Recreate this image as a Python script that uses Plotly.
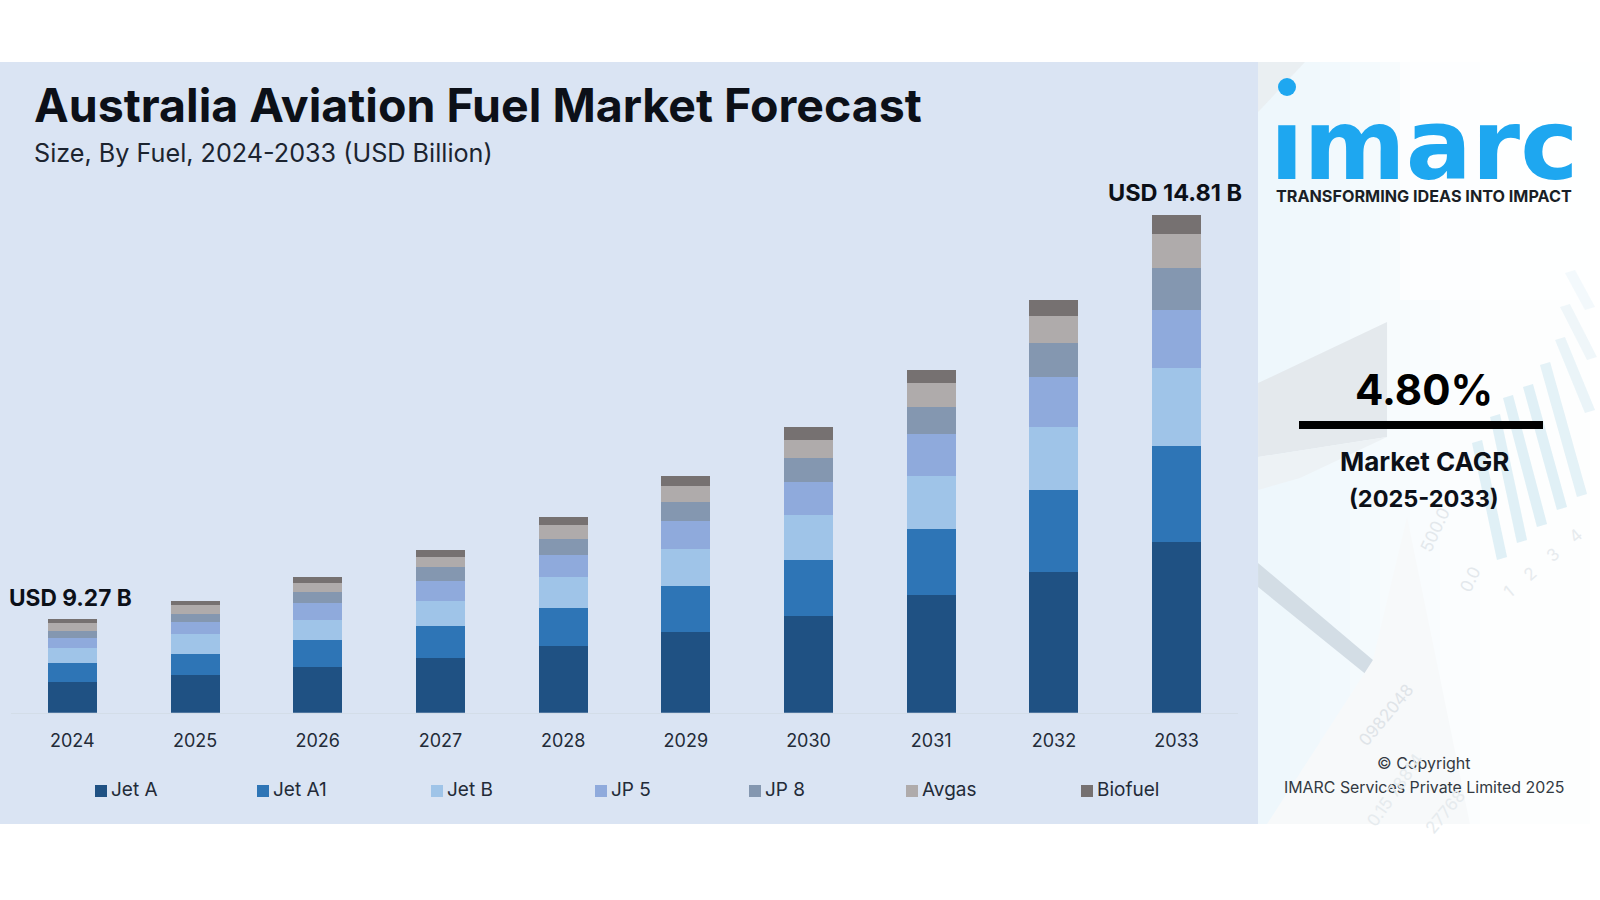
"""Australia aviation fuel market forecast, stacked bars with side panel."""
import plotly.graph_objects as go

WIDTH = 1600
HEIGHT = 900
FONT = 'Inter, Arial, sans-serif'
TEXT_DARK = '#0c1018'
TEXT_TICK = '#232b38'

years = ['2024', '2025', '2026', '2027', '2028', '2029', '2030', '2031', '2032', '2033']

# scaled so that the 2033 stack equals its 14.81 label
# (the source drew the bars illustratively, 2024 does not reach 9.27 on this scale)
jet_a = [0.92, 1.12, 1.36, 1.64, 1.98, 2.41, 2.88, 3.51, 4.19, 5.06]
jet_a1 = [0.56, 0.62, 0.79, 0.94, 1.14, 1.35, 1.65, 1.95, 2.43, 2.87]
jet_b = [0.44, 0.59, 0.62, 0.74, 0.92, 1.10, 1.36, 1.57, 1.86, 2.31]
jp_5 = [0.31, 0.38, 0.50, 0.59, 0.65, 0.84, 0.97, 1.24, 1.49, 1.72]
jp_8 = [0.21, 0.22, 0.32, 0.42, 0.48, 0.57, 0.72, 0.81, 1.01, 1.25]
avgas = [0.22, 0.27, 0.28, 0.30, 0.41, 0.48, 0.54, 0.72, 0.82, 1.03]
biofuel = [0.12, 0.13, 0.16, 0.21, 0.24, 0.29, 0.36, 0.39, 0.47, 0.56]

fuel_names = ['Jet A', 'Jet A1', 'Jet B', 'JP 5', 'JP 8', 'Avgas', 'Biofuel']
fuel_series = [jet_a, jet_a1, jet_b, jp_5, jp_8, avgas, biofuel]
fuel_colors = ['#1f5183', '#2e75b6', '#9fc4e8', '#8faadc', '#8497b0', '#afabab', '#767171']


def px(x):
    return x / WIDTH


def py(y):
    return 1 - y / HEIGHT


def poly(points, color, opacity=1.0):
    path = 'M' + ' L'.join(f'{px(x):.4f},{py(y):.4f}' for x, y in points) + ' Z'
    return dict(type='path', path=path, xref='paper', yref='paper', fillcolor=color,
                opacity=opacity, line=dict(width=0), layer='below')


def rect(x0, y0, x1, y1, color, opacity=1.0):
    return dict(type='rect', xref='paper', yref='paper', x0=px(x0), x1=px(x1), y0=py(y1), y1=py(y0),
                fillcolor=color, opacity=opacity, line=dict(width=0), layer='below')


def label(x, y, text, size, color=TEXT_DARK, bold=False, anchor='center', angle=0, family=FONT):
    return dict(xref='paper', yref='paper', x=px(x), y=py(y), text=f'<b>{text}</b>' if bold else text,
                showarrow=False, xanchor=anchor, yanchor='middle', textangle=angle,
                font=dict(family=family, size=size, color=color))


fig = go.Figure()
for name, values, color in zip(fuel_names, fuel_series, fuel_colors):
    fig.add_trace(go.Bar(x=years, y=values, name=name, marker_color=color, marker_line_width=0))

# backgrounds and the faded picture behind the side panel
shapes = [rect(0, 62, 1258, 824, '#dae4f3')]
# side panel fades from pale blue to near white, plotly shapes have no gradient so use steps
for x0, x1, color in [(1258, 1290, '#eef7fc'), (1290, 1320, '#f0f8fc'), (1320, 1350, '#f2f9fd'), (1350, 1380, '#f4fafd'),
                      (1380, 1410, '#f7fbfd'), (1410, 1440, '#f9fcfe'), (1440, 1480, '#fbfdfe'), (1480, 1590, '#fdfefe')]:
    shapes.append(rect(x0, 62, x1, 824, color))
shapes += [
    poly([(1400, 62), (1590, 62), (1590, 300), (1400, 300)], '#ffffff', 0.6),
    poly([(1258, 62), (1305, 62), (1258, 112)], '#e8ecef', 0.8),
    poly([(1258, 383), (1387, 322), (1387, 437), (1258, 457)], '#e4e9ed'),
    poly([(1258, 457), (1387, 437), (1300, 478), (1258, 490)], '#edf2f5'),
    poly([(1258, 563), (1373, 660), (1373, 680), (1258, 587)], '#d3dde5'),
    poly([(1407, 517), (1373, 660), (1267, 824), (1470, 824)], '#f7f9fa'),
]
# tilted light blue bars at the right, the upper ones fade out
for top_x, top_y, bottom_x, bottom_y, alpha in [(1472, 443, 1497, 560, 0.7), (1490, 417, 1517, 543, 0.7),
                                                (1503, 398, 1537, 527, 0.7), (1523, 387, 1557, 510, 0.7),
                                                (1540, 365, 1577, 497, 0.6), (1555, 340, 1585, 413, 0.45),
                                                (1560, 307, 1587, 360, 0.35), (1565, 273, 1585, 310, 0.25)]:
    shapes.append(poly([(top_x, top_y), (top_x + 10, top_y - 3), (bottom_x + 10, bottom_y - 3), (bottom_x, bottom_y)],
                       '#d3e9f2', alpha))
# logo dot and the CAGR rule
shapes.append(dict(type='circle', xref='paper', yref='paper', x0=px(1278), x1=px(1296), y0=py(96), y1=py(78),
                   fillcolor='#1ea7f0', line=dict(width=0), layer='above'))
shapes.append(rect(1299, 421, 1543, 429, '#000000'))
# legend swatches
legend_x = [95, 257, 431, 595, 749, 906, 1081]
for x, color in zip(legend_x, fuel_colors):
    shapes.append(rect(x, 785, x + 12, 797, color))

annotations = [
    label(32, 105, 'Australia Aviation Fuel Market Forecast', 46.5, bold=True, anchor='left'),
    label(32, 153, 'Size, By Fuel, 2024-2033 (USD Billion)', 25.2, color='#1c2430', anchor='left'),
    # category axis takes the position index here, not the label
    dict(xref='x', yref='y', x=0, y=sum(s[0] for s in fuel_series), yshift=22, xshift=-1.5, text='<b>USD 9.27 B</b>',
         showarrow=False, font=dict(family=FONT, size=22.7, color=TEXT_DARK)),
    dict(xref='x', yref='y', x=len(years) - 1, y=sum(s[-1] for s in fuel_series), yshift=22, xshift=-2,
         text='<b>USD 14.81 B</b>', showarrow=False, font=dict(family=FONT, size=23.5, color=TEXT_DARK)),
    # side panel
    label(1424, 145, '<b>ımarc</b>', 98, color='#1ea7f0', family='DejaVu Sans'),
    label(1424, 196, 'TRANSFORMING IDEAS INTO IMPACT', 16.2, color='#1a1f26', bold=True),
    label(1424, 389, '4.80%', 42, color='#000000', bold=True),
    label(1424, 461, 'Market CAGR', 26, bold=True),
    label(1424, 499, '(2025-2033)', 23.5, bold=True),
    label(1424, 763, '© Copyright', 16, color='#333a42'),
    label(1424, 787, 'IMARC Services Private Limited 2025', 15.9, color='#333a42'),
    # watermark numbers of the background picture
    label(1435, 530, '500.0', 17, color='#e3e8ec', angle=-65),
    label(1470, 580, '0.0', 17, color='#e3e8ec', angle=-65),
    label(1543, 563, '1    2    3    4', 17, color='#e7ebee', angle=-40),
    label(1386, 715, '0982048', 17, color='#dfe4e8', angle=-50),
    label(1395, 790, '0.15 78814', 17, color='#e6ebee', angle=-55),
    label(1445, 812, '27768', 17, color='#e6ebee', angle=-50),
]
for x, name in zip(legend_x, fuel_names):
    annotations.append(label(x + 14, 789, name, 19, color=TEXT_TICK, anchor='left'))

fig.update_layout(
    width=WIDTH, height=HEIGHT, autosize=False, barmode='stack', bargap=0.6, showlegend=False,
    paper_bgcolor='#ffffff', plot_bgcolor='rgba(0,0,0,0)', font=dict(family=FONT),
    margin=dict(l=0, r=0, t=0, b=0), shapes=shapes, annotations=annotations,
)
fig.update_xaxes(type='category', range=[-0.5, 9.5], domain=[px(11), px(1238)], anchor='y', showgrid=False,
                 showline=True, linecolor='#d3dde8', linewidth=1, ticks='', ticklabelstandoff=12,
                 tickfont=dict(family=FONT, size=18, color=TEXT_TICK))
fig.update_yaxes(range=[0, 15.24], domain=[py(712.7), py(200)], visible=False, showgrid=False, zeroline=False)

fig.write_html('out.html', config=dict(displayModeBar=False), post_script="document.body.style.margin='0';")
